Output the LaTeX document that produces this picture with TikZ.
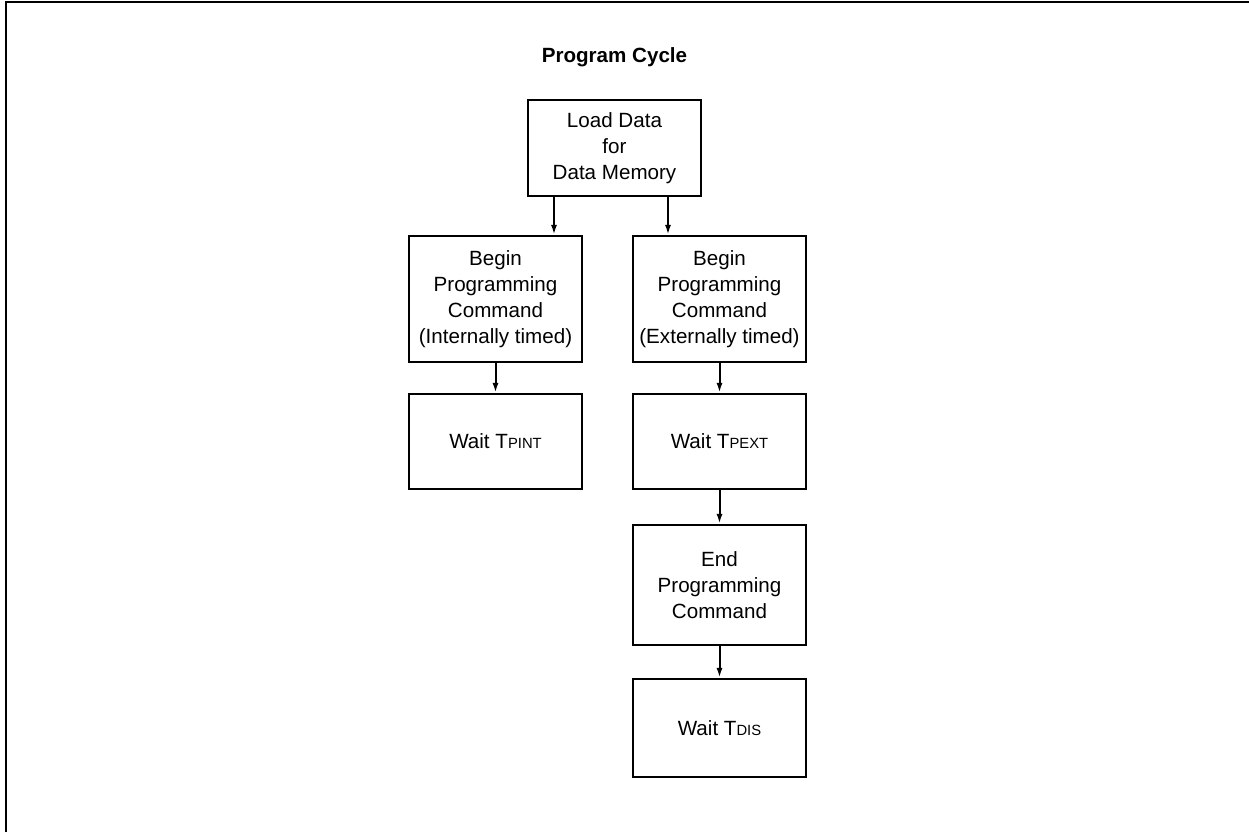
\documentclass[tikz,border=0pt]{standalone}
\usepackage{fontspec}
\setmainfont{Liberation Sans}
\usepackage{tikz}
\usetikzlibrary{arrows.meta}

\newcommand{\tsub}[1]{{\fontsize{7.4}{8}\selectfont #1}}

\begin{document}
\begin{tikzpicture}[
    x=0.5pt, y=-0.5pt,
    stepbox/.style={rectangle, draw, line width=1.1pt, minimum width=86.5pt, align=center, inner sep=0pt,
                    font=\fontsize{10.3}{13}\selectfont},
    flow/.style={draw, line width=1pt, -{Latex[length=5pt,width=3pt]}},
    title/.style={font=\fontsize{10.3}{13}\selectfont\bfseries, anchor=base}
]

% Frame
\useasboundingbox (0,0) rectangle (1249,832);
\draw[line width=1pt] (6,832) -- (6,2) -- (1249,2);

% Title
\node[title] (cap) at (614.5,62) {Program Cycle};

% Define boxes
\node[stepbox, minimum height=48pt] (load) at (614.5,148) {Load Data\\for\\Data Memory};
\node[stepbox, minimum height=63pt] (bpi) at (495.5,299) {Begin\\Programming\\Command\\(Internally timed)};
\node[stepbox, minimum height=63pt] (bpe) at (719.5,299) {Begin\\Programming\\Command\\(Externally timed)};
\node[stepbox, minimum height=47.5pt] (wpi) at (495.5,441.5) {Wait T\tsub{PINT}};
\node[stepbox, minimum height=47.5pt] (wpe) at (719.5,441.5) {Wait T\tsub{PEXT}};
\node[stepbox, minimum height=60pt] (endp) at (719.5,585) {End\\Programming\\Command};
\node[stepbox, minimum height=49pt] (wdis) at (719.5,728) {Wait T\tsub{DIS}};

% Define arrows
\draw[flow] ([xshift=-30.25pt]load.south) coordinate (l1) -- (l1 |- bpi.north);
\draw[flow] ([xshift=26.75pt]load.south) coordinate (l2) -- (l2 |- bpe.north);
\draw[flow] (bpi) -- (wpi);
\draw[flow] (bpe) -- (wpe);
\draw[flow] (wpe) -- (endp);
\draw[flow] (endp) -- (wdis);

\end{tikzpicture}
\end{document}
